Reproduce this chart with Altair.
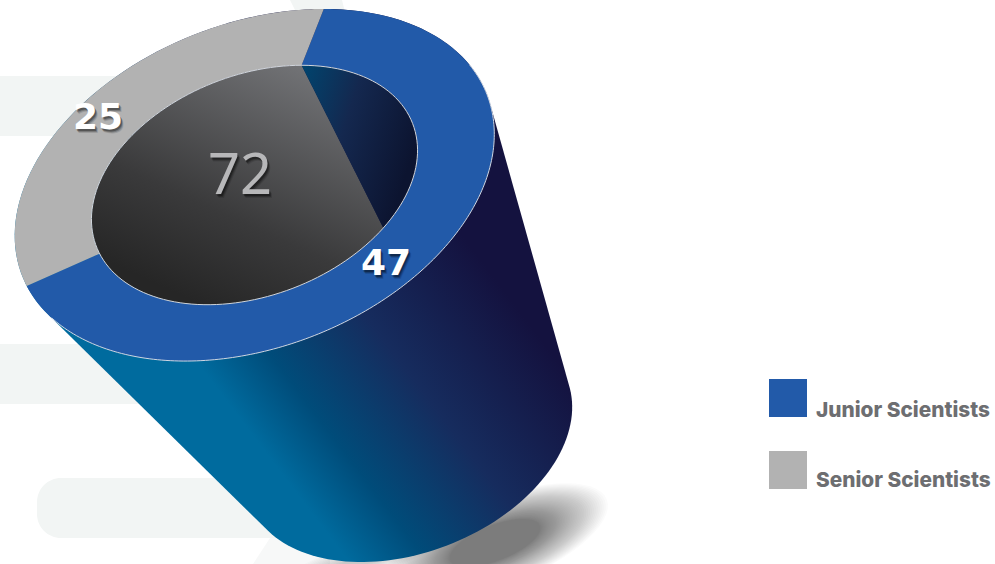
import numpy as np
import altair as alt

# Chart values
categories = ["Junior Scientists", "Senior Scientists"]
values = [47, 25]
total_label = "72"
colors = ["#225aa9", "#b2b2b2"]

# Geometry of the tilted cylinder
CENTER = np.array([254.5, 185.0])
FOOT = np.array([408.4, 441.8])
MAJOR, MINOR = 249.5, 162.0
TILT = np.radians(21.3)
U = np.array([np.cos(TILT), -np.sin(TILT)])
V = np.array([np.sin(TILT), np.cos(TILT)])
HOLE = 0.68
FOOT_SCALE = 0.683
START = -59.0
WALL_END = 52.0
PANEL = "#f2f5f4"


def arc(t0, t1, scale=1.0, center=CENTER, n=160, major=MAJOR, minor=MINOR):
    t = np.radians(np.linspace(t0, t1, n))
    pts = center + scale * (np.outer(major * np.cos(t), U) + np.outer(minor * np.sin(t), V))
    return pts.tolist()


def hull(points):
    pts = sorted(map(tuple, points))
    def half(seq):
        out = []
        for p in seq:
            while len(out) > 1 and (out[-1][0] - out[-2][0]) * (p[1] - out[-2][1]) - (out[-1][1] - out[-2][1]) * (p[0] - out[-2][0]) <= 0:
                out.pop()
            out.append(p)
        return out[:-1]
    return [list(p) for p in half(pts) + half(pts[::-1])]


def polygon(points):
    return {"type": "Feature", "properties": {},
            "geometry": {"type": "Polygon", "coordinates": [points + [points[0]]]}}


def polyline(points):
    return {"type": "Feature", "properties": {},
            "geometry": {"type": "LineString", "coordinates": points}}


def shape(feature, **mark):
    return (alt.Chart(alt.Data(values=[feature]))
            .mark_geoshape(**mark)
            .project(type="identity", scale=1, translate=[0, 0]))


def gradient(x1, y1, x2, y2, stops):
    return alt.Gradient(gradient="linear", x1=x1, y1=y1, x2=x2, y2=y2,
                        stops=[alt.GradientStop(offset=o, color=c) for o, c in stops])


def label(text, x, y, size, color, weight, font, shadow_alpha=0.3):
    layers = []
    for k, a in ((3.5, 0.4), (2.5, 0.7), (1.5, 1.0)):
        layers.append(alt.Chart(alt.Data(values=[{"t": text}])).mark_text(
            font=font, fontSize=size, fontWeight=weight, color="#000000",
            opacity=shadow_alpha * a, dx=k * 0.8, dy=k,
        ).encode(x=alt.value(x), y=alt.value(y), text="t:N"))
    layers.append(alt.Chart(alt.Data(values=[{"t": text}])).mark_text(
        font=font, fontSize=size, fontWeight=weight, color=color,
    ).encode(x=alt.value(x), y=alt.value(y), text="t:N"))
    return layers


def band(x0, x1, y0, y1, radius=0):
    return alt.Chart(alt.Data(values=[{"k": 0}])).mark_rect(color=PANEL, cornerRadius=radius).encode(
        x=alt.value(x0), x2=alt.value(x1), y=alt.value(y0), y2=alt.value(y1))


layers = [
    band(0, 200, 76, 136),
    band(0, 300, 344, 404),
    band(37, 400, 478, 538, 24),
    shape(polygon([[290, 0], [342, 0], [345, 12], [296, 12]]), fill=PANEL, strokeWidth=0),
    shape(polygon([[253, 564], [270, 538], [330, 538], [330, 564]]), fill="#f7f8f8", strokeWidth=0),
]

# Soft ground shadow built from stacked translucent ellipses, denser towards the middle
for k in 0.4 + 0.6 * np.linspace(0, 1, 44) ** 1.3:
    layers.append(shape(polygon(arc(0, 360, float(k), np.array([495.0, 543.0]), 60, 120, 44)),
                        fill="#2e2e2e", fillOpacity=0.02, strokeWidth=0))
for k in np.linspace(1.0, 0.3, 14):
    layers.append(shape(polygon(arc(0, 360, float(k), np.array([370.0, 556.0]), 60, 110, 20)),
                        fill="#2e2e2e", fillOpacity=0.02, strokeWidth=0))

# Cylinder body
body_fill = gradient(0.194, 0.731, 0.84, 0.244, [
    (0.0, "#006b9e"), (0.2, "#006b9e"), (0.34, "#004c7a"),
    (0.56, "#162c5e"), (0.84, "#14123f"), (1.0, "#14123f")])
layers.append(shape(polygon(hull(arc(0, 360) + arc(0, 360, FOOT_SCALE, FOOT))),
                    fill=body_fill, strokeWidth=0))

# Donut rim, one sector per category
angle = START
for value, color in zip(values, colors):
    sweep = 360.0 * value / sum(values)
    ring = arc(angle, angle + sweep) + arc(angle + sweep, angle, HOLE)
    layers.append(shape(polygon(ring), fill=color, strokeWidth=0))
    angle += sweep

# Inside of the hole: grey wall and blue wall
grey_fill = gradient(0.27, 0.94, 0.78, 0.02, [
    (0.0, "#262626"), (0.35, "#3a3a3b"), (1.0, "#737477")])
blue_fill = gradient(0.0, 0.0, 1.0, 0.45, [
    (0.0, "#00456f"), (0.45, "#14284f"), (1.0, "#0c1430")])
layers.append(shape(polygon(arc(WALL_END, START + 360, HOLE)), fill=grey_fill, strokeWidth=0))
layers.append(shape(polygon(arc(START, WALL_END, HOLE)), fill=blue_fill, strokeWidth=0))

# Thin highlights round the hole and the lower rim
layers.append(shape(polyline(arc(0, 360, HOLE)), filled=False, stroke="#d2d6dc", strokeWidth=1))
layers.append(shape(polyline(arc(-12, 162)), filled=False, stroke="#cfd6e2", strokeWidth=1))

# Value labels
layers += label(str(values[1]), 98, 118, 36, "#ffffff", 700, "DejaVu Sans")
layers += label(str(values[0]), 386, 264, 36, "#ffffff", 700, "DejaVu Sans")
layers += label(total_label, 240, 177, 56, "#b7b7b9", 400, "Noto Sans")

# Legend
for i, (name, color) in enumerate(zip(categories, colors)):
    y = 379 + i * 72
    layers.append(alt.Chart(alt.Data(values=[{"k": name}])).mark_rect(color=color).encode(
        x=alt.value(769), x2=alt.value(807), y=alt.value(y), y2=alt.value(y + 38)))
    layers.append(alt.Chart(alt.Data(values=[{"k": name}])).mark_text(
        font="Inter", fontSize=20.8, fontWeight=800, color="#6d6e71", align="left", baseline="alphabetic",
    ).encode(x=alt.value(816), y=alt.value(y + 38 - i * 2), text="k:N"))

chart = alt.layer(*layers).properties(
    width=995, height=564, padding=0, background="#ffffff",
).configure_view(stroke=None)

chart.save("out.html", embed_options={"renderer": "svg", "actions": False})
